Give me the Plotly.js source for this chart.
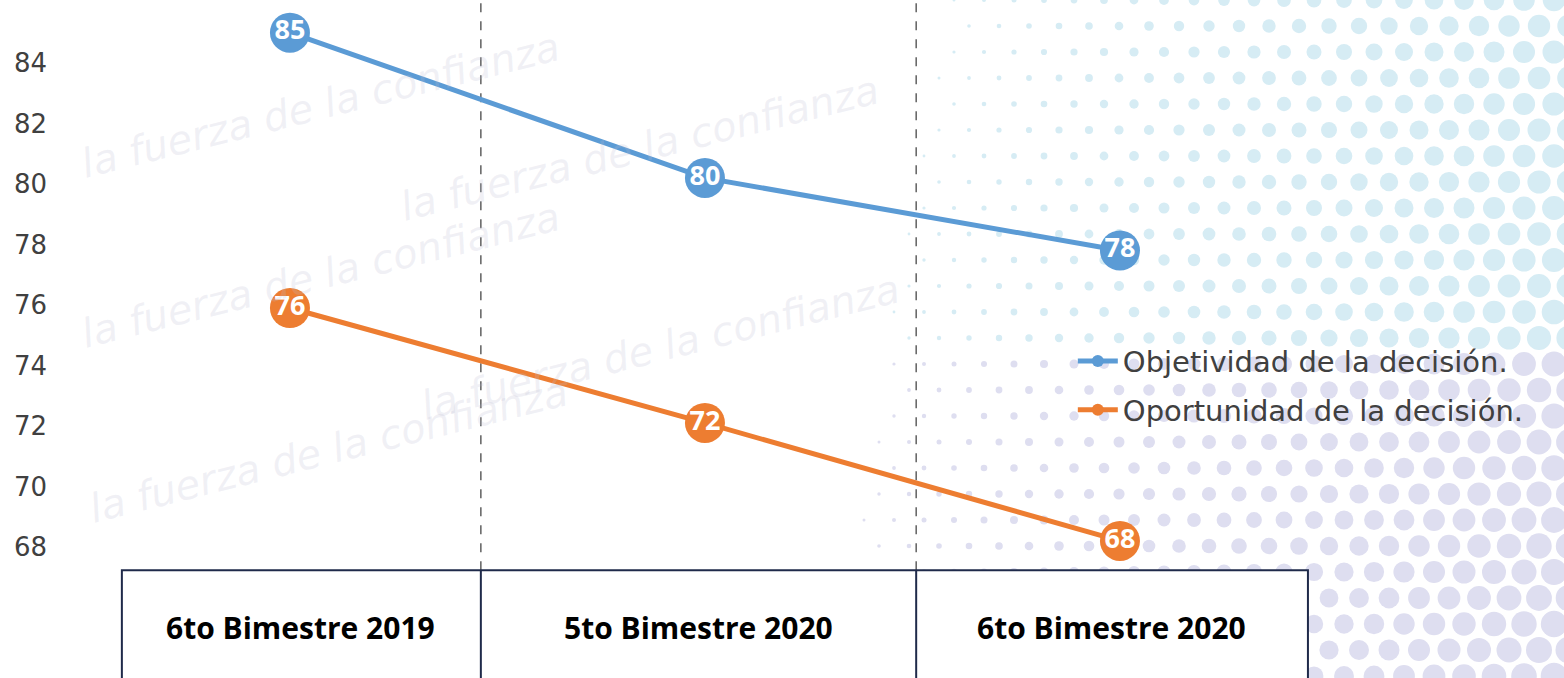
<!DOCTYPE html>
<html>
<head>
<meta charset="utf-8">
<script src="https://cdn.plot.ly/plotly-3.0.1.min.js"></script>
<style>html,body{margin:0;padding:0;background:#fff;}#chart{width:1564px;height:678px;}</style>
</head>
<body>
<div id="chart"></div>
<script>
// ---- data ----
var categories = ["6to Bimestre 2019", "5to Bimestre 2020", "6to Bimestre 2020"];
var objetividad = [85, 80.2, 77.8];
var oportunidad = [75.9, 72.1, 68.2];
var seriesNames = ["Objetividad de la decisión.", "Oportunidad de la decisión."];
var yTicks = [68, 70, 72, 74, 76, 78, 80, 82, 84];
var watermarkText = "la fuerza de la confianza";

// ---- decorative dot pattern (background image) ----
function dotPattern() {
  var w = 760, h = 678, s = '';
  for (var row = 0; row * 26 < h + 26; row++) {
    for (var col = 0; col * 30 < w + 30; col++) {
      var cx = col * 30 + (row % 2 ? 15 : 0);
      var cy = row * 26;
      var t = cx / w;
      var r = Math.max(0, (t - 0.08) * 12.5 + (cy / h) * 2);
      if (r < 1.4) continue;
      var v = cy / h;
      var c = v < 0.5 ? 'rgb(214,236,244)' : 'rgb(222,222,240)';
      s += '<circle cx="' + cx + '" cy="' + cy + '" r="' + r.toFixed(1) + '" fill="' + c + '"/>';
    }
  }
  var svg = '<svg xmlns="http://www.w3.org/2000/svg" width="' + w + '" height="' + h + '">' + s + '</svg>';
  return 'data:image/svg+xml;base64,' + btoa(svg);
}

var xs = categories.map(function (c, i) { return i; });

var markerLabelFont = {family: "Open Sans", size: 27, color: "#ffffff", weight: 700};

var traces = [
  {
    x: xs, y: objetividad, name: seriesNames[0], type: "scatter", legendgroup: "g1",
    mode: "lines+markers+text",
    line: {color: "#5b9bd5", width: 5},
    marker: {color: "#5b9bd5", size: 40},
    texttemplate: "%{y:.0f}", textposition: "middle center",
    textfont: markerLabelFont, cliponaxis: false, hoverinfo: "skip"
  },
  {
    x: xs, y: oportunidad, name: seriesNames[1], type: "scatter", legendgroup: "g2",
    mode: "lines+markers+text",
    line: {color: "#ed7d31", width: 5},
    marker: {color: "#ed7d31", size: 40},
    texttemplate: "%{y:.0f}", textposition: "middle center",
    textfont: markerLabelFont, cliponaxis: false, hoverinfo: "skip"
  }
];

// table at bottom and dashed separators
var shapes = [
  {type: "line", xref: "x", yref: "paper", x0: 0.46, x1: 0.46, y0: 0.159, y1: 1,
   line: {color: "#606060", width: 1.5, dash: "dash"}, layer: "below"},
  {type: "line", xref: "x", yref: "paper", x0: 1.509, x1: 1.509, y0: 0.159, y1: 1,
   line: {color: "#606060", width: 1.5, dash: "dash"}, layer: "below"},
  {type: "rect", xref: "x", yref: "paper", x0: -0.405, x1: 2.453, y0: -0.01, y1: 0.159,
   fillcolor: "#ffffff", line: {color: "#1f2a4a", width: 2}, layer: "above"},
  {type: "line", xref: "x", yref: "paper", x0: 0.46, x1: 0.46, y0: -0.01, y1: 0.159,
   line: {color: "#1f2a4a", width: 2}, layer: "above"},
  {type: "line", xref: "x", yref: "paper", x0: 1.509, x1: 1.509, y0: -0.01, y1: 0.159,
   line: {color: "#1f2a4a", width: 2}, layer: "above"}
];

var colCenters = [0.0265, 0.984, 1.98];
var annotations = categories.map(function (c, i) {
  return {text: c, xref: "x", yref: "paper", x: colCenters[i], y: 0.074,
          xanchor: "center", yanchor: "middle",
          showarrow: false, font: {family: "Open Sans", size: 30, color: "#000000", weight: 700}};
});

// faint watermark lines
var wm = [
  {x: -0.52, y: 82.6}, {x: 0.25, y: 81.2}, {x: -0.52, y: 77.0},
  {x: 0.3, y: 74.6}, {x: -0.5, y: 71.2}
];
wm.forEach(function (p) {
  annotations.push({text: watermarkText, xref: "x", yref: "y", x: p.x, y: p.y,
    xanchor: "left", yanchor: "middle",
    showarrow: false, textangle: -14,
    font: {family: "DejaVu Sans", size: 40, color: "rgba(190,190,210,0.22)", style: "italic"}});
});

var layout = {
  width: 1564, height: 678,
  margin: {l: 48, r: 0, t: 0, b: 0},
  paper_bgcolor: "#ffffff", plot_bgcolor: "rgba(0,0,0,0)",
  showlegend: true,
  legend: {x: 0.676, y: 0.505, xanchor: "left", yanchor: "top",
           bgcolor: "rgba(0,0,0,0)", font: {family: "DejaVu Sans", size: 29, color: "#404040"},
           itemsizing: "constant", itemwidth: 40, tracegroupgap: 8},
  xaxis: {range: [-0.583, 3.07], showgrid: false, zeroline: false, showline: false,
          showticklabels: false, ticks: "", fixedrange: true},
  yaxis: {range: [63.67, 86.08], tickvals: yTicks, ticktext: yTicks.map(String),
          showgrid: false, zeroline: false, showline: false, ticks: "",
          tickfont: {family: "DejaVu Sans", size: 26, color: "#404040"}, fixedrange: true},
  shapes: shapes,
  annotations: annotations,
  images: [{source: dotPattern(), xref: "paper", yref: "paper", x: 1, y: 1,
            sizex: 760 / 1516, sizey: 1, xanchor: "right", yanchor: "top",
            sizing: "stretch", layer: "below", opacity: 1}]
};

Plotly.newPlot("chart", traces, layout, {displayModeBar: false, staticPlot: true});
</script>
</body>
</html>
